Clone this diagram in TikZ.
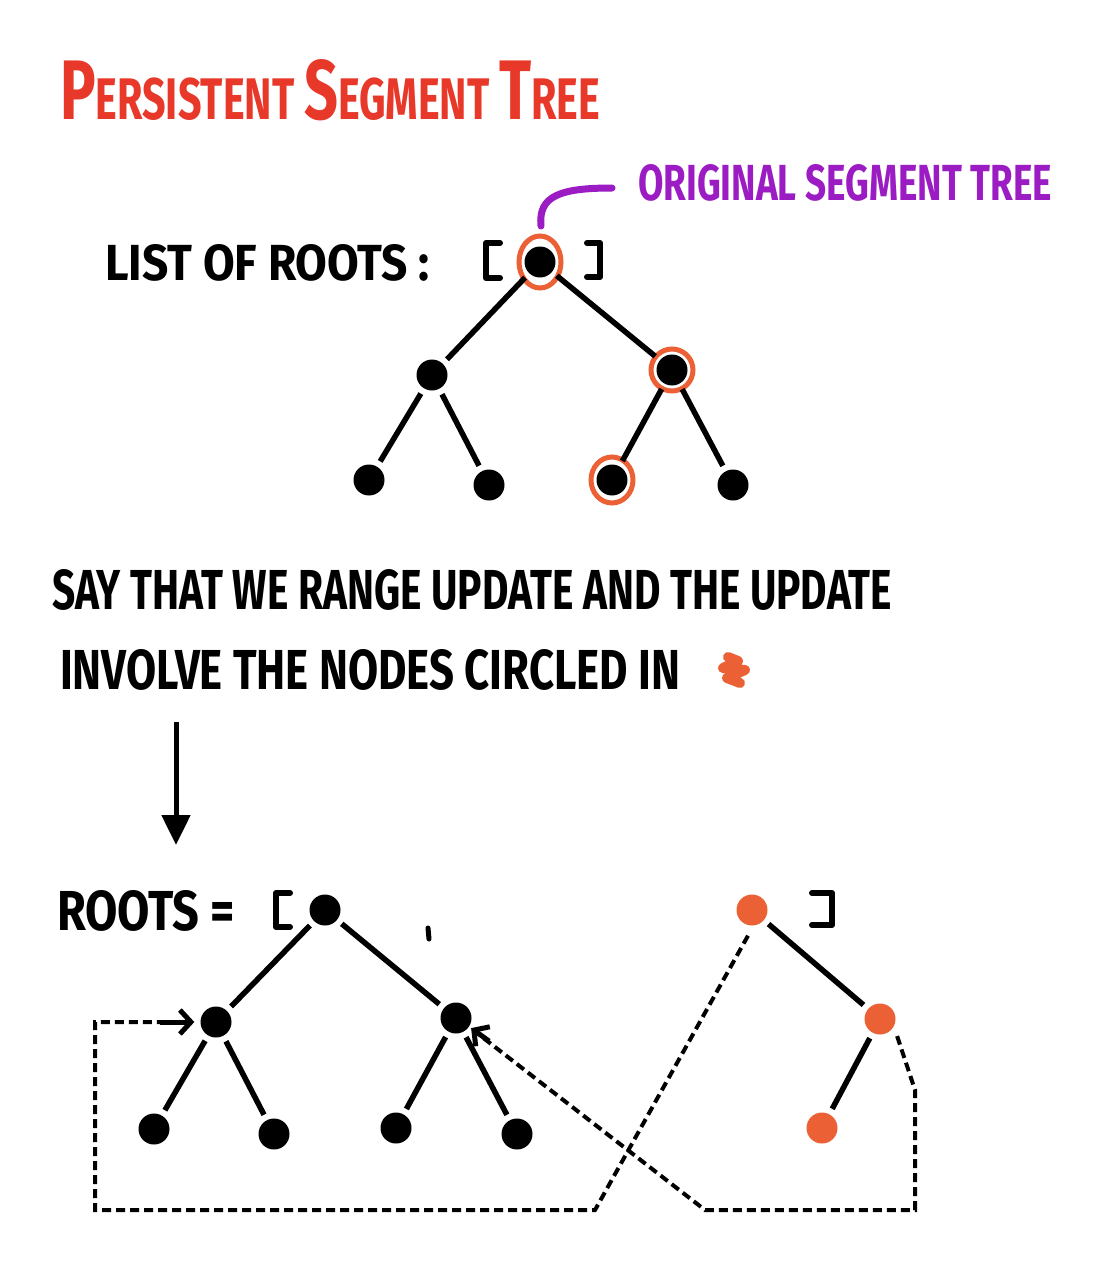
\documentclass[tikz,border=0pt]{standalone}
\usepackage{fontspec}
\setmainfont{Fira Sans}
\usetikzlibrary{arrows.meta}
\definecolor{tred}{HTML}{E8382A}
\definecolor{tpurple}{HTML}{9C1CC4}
\definecolor{torange}{HTML}{EC6035}
\tikzset{
  dot/.style={circle, fill=black, minimum size=31pt, inner sep=0pt},
  odot/.style={dot, fill=torange},
  ring/.style={draw=torange, line width=5pt},
  edge/.style={line width=5.5pt, shorten <=6pt, shorten >=6pt},
  brk/.style={line width=6pt, line join=round, line cap=round},
  txt/.style={anchor=west, inner sep=0pt, outer sep=0pt, font=\bfseries},
  dsh/.style={line width=4pt, dash pattern=on 9pt off 5pt},
  barb/.style={-{Straight Barb[length=11pt,width=24pt,line width=5pt]}}
}
\begin{document}
\begin{tikzpicture}[x=1pt,y=-1pt]
\useasboundingbox[fill=white] (0,0) rectangle (1096,1274);

% title
\node[txt, text=tred] (title) at (60,90) {\resizebox{540pt}{60pt}{\Large P\normalsize ERSISTENT \Large S\normalsize EGMENT \Large T\normalsize REE}};

% purple label
\node[txt, text=tpurple] (plab) at (638,183) {\resizebox{414pt}{36pt}{ORIGINAL SEGMENT TREE}};
\coordinate (pstart) at (541,226);
\coordinate (pend) at (612,188);
\draw[tpurple, line width=7pt, line cap=round] (pstart) .. controls (538,196) and (560,188) .. (pend);

% list of roots
\node[txt] (lor) at (105,263) {\resizebox{325pt}{36pt}{LIST OF ROOTS :}};
\draw[brk] (500,243) -- (486,243) -- (486,278) -- (500,278);
\draw[brk] (587,243) -- (600,243) -- (600,277) -- (587,277);

% top tree
\node[dot] (t0) at (540,262) {};
\node[dot] (t1) at (432,375) {};
\node[dot] (t2) at (672,370) {};
\node[dot] (t3) at (369,480) {};
\node[dot] (t4) at (489,485) {};
\node[dot] (t5) at (612,480) {};
\node[dot] (t6) at (733,485) {};
\draw[ring] (t0) circle[x radius=21pt, y radius=26pt];
\draw[ring] (t2) circle[x radius=21pt, y radius=21pt];
\draw[ring] (t5) circle[x radius=21pt, y radius=23pt];
\draw[edge] (t0) -- (t1);
\draw[edge] (t0) -- (t2);
\draw[edge] (t1) -- (t3);
\draw[edge] (t1) -- (t4);
\draw[edge] (t2) -- (t5);
\draw[edge] (t2) -- (t6);

% text lines
\node[txt] (l1) at (52,590) {\resizebox{840pt}{40pt}{SAY THAT WE RANGE UPDATE AND THE UPDATE}};
\node[txt] (l2) at (60,670) {\resizebox{620pt}{40pt}{INVOLVE THE NODES CIRCLED IN}};
\draw[torange, line width=10pt, line cap=round, line join=round] (728,657) -- (738,661) -- (723,668) -- (745,670) -- (727,678) -- (740,683);

% down arrow
\coordinate (a1) at (176,722);
\coordinate (a2) at (176,845);
\draw[line width=5pt, -{Triangle[length=30pt,width=28pt]}] (a1) -- (a2);

% bottom
\node[txt] (rts) at (57,911) {\resizebox{178pt}{40pt}{ROOTS =}};
\draw[brk] (290,893) -- (276,893) -- (276,927) -- (290,927);
\draw[brk] (812,893) -- (832,893) -- (832,925) -- (812,925);
\draw[line width=5pt, line cap=round] (428,928) -- (429,939);

\node[dot] (b0) at (325,910) {};
\node[dot] (b1) at (216,1022) {};
\node[dot] (b2) at (456,1018) {};
\node[dot] (b3) at (154,1129) {};
\node[dot] (b4) at (274,1134) {};
\node[dot] (b5) at (396,1128) {};
\node[dot] (b6) at (517,1134) {};
\node[odot] (o0) at (752,910) {};
\node[odot] (o1) at (880,1019) {};
\node[odot] (o2) at (822,1128) {};

\draw[edge] (b0) -- (b1);
\draw[edge] (b0) -- (b2);
\draw[edge] (b1) -- (b3);
\draw[edge] (b1) -- (b4);
\draw[edge] (b2) -- (b5);
\draw[edge] (b2) -- (b6);
\draw[edge] (o0) -- (o1);
\draw[edge] (o1) -- (o2);

% dashed pointers
\draw[dsh] ([shift={(-4pt,-10pt)}]o0.south) -- (595,1210) -- (95,1210) -- (95,1022) -- ([xshift=-30pt]b1.west);
\draw[line width=5pt, barb] ([xshift=-40pt]b1.west) -- ([xshift=-6pt]b1.west);
\draw[dsh] ([shift={(6pt,-6pt)}]o1.south east) -- (915,1090) -- (915,1210) -- (705,1210) -- ([shift={(10pt,-4pt)}]b2.south east);
\draw[line width=5pt, barb] ([shift={(22pt,-12pt)}]b2.south east) -- ([shift={(4pt,1pt)}]b2.south east);
\end{tikzpicture}
\end{document}
